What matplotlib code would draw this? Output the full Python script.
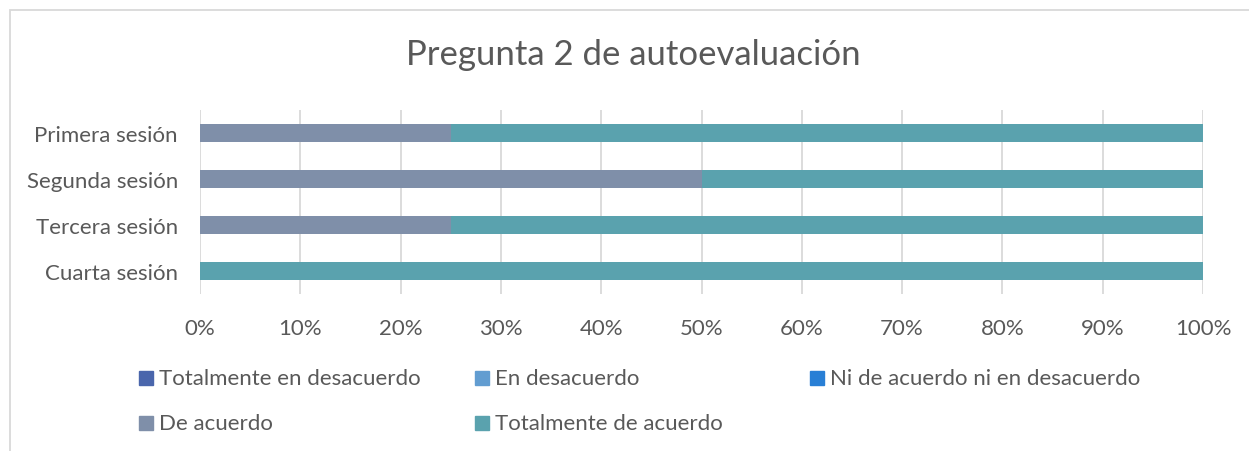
import matplotlib
matplotlib.use("Agg")
import matplotlib.pyplot as plt
from matplotlib.patches import Rectangle
from matplotlib.ticker import PercentFormatter

plt.rcParams['font.family'] = ['Lato', 'DejaVu Sans']

sesiones = ["Primera sesión", "Segunda sesión", "Tercera sesión", "Cuarta sesión"]
categorias = ["Totalmente en desacuerdo", "En desacuerdo",
              "Ni de acuerdo ni en desacuerdo", "De acuerdo",
              "Totalmente de acuerdo"]
colores = ["#4A66AC", "#629DD1", "#297FD5", "#7F8FA9", "#5AA2AE"]

# porcentaje de respuestas por sesión
totalmente_desacuerdo = [0, 0, 0, 0]
en_desacuerdo = [0, 0, 0, 0]
ni_ni = [0, 0, 0, 0]
de_acuerdo = [25, 50, 25, 0]
totalmente_acuerdo = [75, 50, 75, 100]
valores = [totalmente_desacuerdo, en_desacuerdo, ni_ni, de_acuerdo, totalmente_acuerdo]

W, H = 1249, 452
fig = plt.figure(figsize=(W / 100, H / 100), dpi=100)
ax = fig.add_axes([200 / W, 1 - 295 / H, 1003 / W, 184 / H])

texto = "#595959"
gris = "#D9D9D9"

y = list(range(len(sesiones)))
izq = [0] * len(sesiones)
for vals, col, nom in zip(valores, colores, categorias):
    ax.barh(y, vals, left=izq, height=0.39, color=col, label=nom, zorder=3)
    izq = [a + b for a, b in zip(izq, vals)]

ax.set_xlim(0, 100)
ax.set_ylim(len(sesiones) - 0.5, -0.5)
ax.set_xticks(range(0, 101, 10))
ax.xaxis.set_major_formatter(PercentFormatter(decimals=0))
ax.set_yticks(y)
ax.set_yticklabels(sesiones)
ax.grid(axis="x", color=gris, linewidth=1.3, zorder=0)
for s in ax.spines.values():
    s.set_visible(False)
ax.tick_params(axis="x", length=0, pad=17, labelsize=16, labelcolor=texto)
ax.tick_params(axis="y", length=0, pad=16, labelsize=16, labelcolor=texto)

fig.text(633 / W, 1 - 55 / H, "Pregunta 2 de autoevaluación",
         ha="center", va="center", fontsize=25, color=texto)

# leyenda en filas de tres
col_x = [139, 475, 810]
fila_y = [379, 424]
for i, (nom, col) in enumerate(zip(categorias, colores)):
    cx = col_x[i % 3]
    cy = fila_y[i // 3]
    fig.patches.append(Rectangle((cx / W, 1 - (cy + 7) / H), 14 / W, 14 / H,
                                 transform=fig.transFigure, color=col))
    fig.text((cx + 20) / W, 1 - cy / H, nom, ha="left", va="center",
             fontsize=16, color=texto)

# marco del gráfico
fig.patches.append(Rectangle((10 / W, -0.1), 1.2, 1 - 11 / H + 0.1,
                             transform=fig.transFigure, fill=False,
                             edgecolor=gris, linewidth=1.3))

fig.savefig("out.png", dpi=100)
